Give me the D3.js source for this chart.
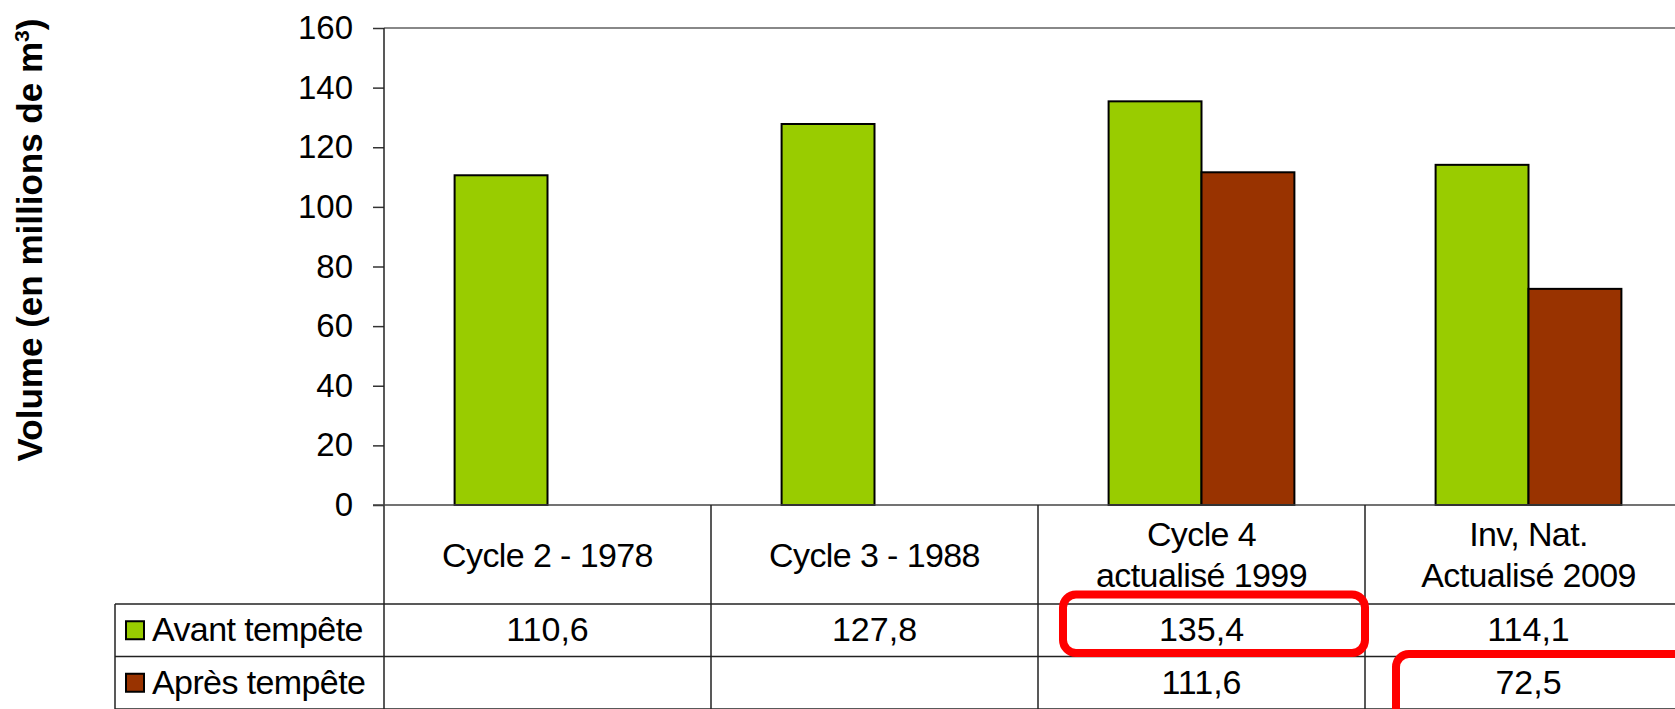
<!DOCTYPE html>
<html>
<head>
<meta charset="utf-8">
<script src="https://cdn.jsdelivr.net/npm/d3@7"></script>
<style>
body { margin:0; background:#fff; }
svg { display:block; font-family:"Liberation Sans", Arial, sans-serif; }
.tick text { font-size:33px; fill:#000; }
.cell { font-size:34px; fill:#000; }
</style>
</head>
<body>
<svg id="chart" width="1675" height="709"></svg>
<script>
// data
var categories = ["Cycle 2 - 1978", "Cycle 3 - 1988", "Cycle 4 - 1999", "Inv Nat - 2009"];
var categoryLines = [["Cycle 2 - 1978"], ["Cycle 3 - 1988"], ["Cycle 4", "actualisé 1999"], ["Inv, Nat.", "Actualisé 2009"]];
var seriesNames = ["Avant tempête", "Après tempête"];
var avant = [110.6, 127.8, 135.4, 114.1];
var apres = [null, null, 111.6, 72.5];
var yTicks = [0, 20, 40, 60, 80, 100, 120, 140, 160];
var colors = ["#99CC00", "#993300"];
// highlighted cells: [category index, series index]
var highlights = [[2, 0], [3, 1]];

var values = [avant, apres];

//sizes
var margins = {top:28, left:384, tableLeft:115};
var catWidth = 327;
var plotBottom = 505;
var headerBottom = 604;
var rowHeight = 52.5;

var svg = d3.select("#chart");

var xScale = d3.scaleBand()
    .domain(categories)
    .range([margins.left, margins.left + catWidth * categories.length])
    .padding(0);

var sScale = d3.scaleBand()
    .domain(seriesNames)
    .range([0, xScale.bandwidth()])
    .paddingInner(0)
    .paddingOuter(0.76);

var yScale = d3.scaleLinear()
    .domain([0, 160])
    .range([plotBottom, margins.top]);

var rowTop = function(i) { return headerBottom + i * rowHeight; };
var right = xScale.range()[1];

var fr = d3.formatLocale({decimal:",", thousands:" ", grouping:[3], currency:["", " €"]});
var fmt = fr.format(".1f");

// top border of plot
svg.append("line")
    .attr("x1", margins.left).attr("x2", right)
    .attr("y1", yScale(160)).attr("y2", yScale(160))
    .attr("stroke", "#888").attr("stroke-width", 2);

// bars
var groups = svg.append("g").selectAll("g")
    .data(categories)
    .enter()
    .append("g")
    .attr("transform", function(c) { return "translate(" + xScale(c) + ",0)"; });

groups.selectAll("rect")
    .data(function(c, i) {
        return seriesNames.map(function(s, j) { return {s:s, v:values[j][i], j:j}; })
            .filter(function(d) { return d.v != null; });
    })
    .enter()
    .append("rect")
    .attr("x", function(d) { return sScale(d.s); })
    .attr("width", sScale.bandwidth())
    .attr("y", function(d) { return yScale(d.v); })
    .attr("height", function(d) { return yScale(0) - yScale(d.v); })
    .attr("fill", function(d) { return colors[d.j]; })
    .attr("stroke", "#000")
    .attr("stroke-width", 2);

// y axis
var yAxis = svg.append("g")
    .attr("transform", "translate(" + margins.left + ",0)")
    .call(d3.axisLeft(yScale).tickValues(yTicks).tickSize(11).tickPadding(20));
yAxis.select(".domain").remove();
yAxis.selectAll(".tick line").attr("stroke", "#333").attr("stroke-width", 1.5);

// y title
var yTitle = svg.append("text")
    .attr("transform", "translate(42,240) rotate(-90)")
    .attr("text-anchor", "middle")
    .attr("font-size", 35)
    .attr("font-weight", "bold");
yTitle.append("tspan").text("Volume (en millions de m");
yTitle.append("tspan").attr("font-size", 21).attr("dy", -13).text("3");
yTitle.append("tspan").attr("dy", 13).text(")");

// table grid
var grid = svg.append("g").attr("stroke", "#222").attr("stroke-width", 1.5);
var tableBottom = rowTop(seriesNames.length);
// axis vertical line down through table
grid.append("line")
    .attr("x1", margins.left).attr("x2", margins.left)
    .attr("y1", margins.top).attr("y2", tableBottom);
// baseline
grid.append("line")
    .attr("x1", margins.left - 11).attr("x2", right)
    .attr("y1", plotBottom).attr("y2", plotBottom)
    .attr("stroke", "#444");
// dividers between categories
grid.selectAll(".div")
    .data(categories.slice(1))
    .enter()
    .append("line")
    .attr("x1", function(c) { return xScale(c); })
    .attr("x2", function(c) { return xScale(c); })
    .attr("y1", plotBottom).attr("y2", tableBottom);
// row lines
grid.selectAll(".row")
    .data(d3.range(seriesNames.length + 1))
    .enter()
    .append("line")
    .attr("x1", margins.tableLeft).attr("x2", right)
    .attr("y1", function(i) { return rowTop(i); })
    .attr("y2", function(i) { return rowTop(i); });
grid.append("line")
    .attr("x1", margins.tableLeft).attr("x2", margins.tableLeft)
    .attr("y1", headerBottom).attr("y2", tableBottom);

// category labels
var headerMid = (plotBottom + headerBottom) / 2;
svg.selectAll(".catlabel")
    .data(categories)
    .enter()
    .append("text")
    .attr("class", "cell")
    .attr("text-anchor", "middle")
    .attr("letter-spacing", -0.6)
    .each(function(c, i) {
        var lines = categoryLines[i];
        var t = d3.select(this);
        lines.forEach(function(l, k) {
            t.append("tspan")
                .attr("x", xScale(c) + xScale.bandwidth() / 2)
                .attr("y", headerMid + 12 + (k - (lines.length - 1) / 2) * 41)
                .text(l);
        });
    });

// legend row headers
seriesNames.forEach(function(s, j) {
    var mid = rowTop(j) + rowHeight / 2;
    svg.append("rect")
        .attr("x", 126).attr("y", mid - 9)
        .attr("width", 18).attr("height", 18)
        .attr("fill", colors[j])
        .attr("stroke", "#000").attr("stroke-width", 2);
    svg.append("text")
        .attr("class", "cell")
        .attr("x", 152).attr("y", mid + 11)
        .attr("letter-spacing", -0.6)
        .text(s);
});

// value cells
seriesNames.forEach(function(s, j) {
    svg.selectAll(".val" + j)
        .data(categories)
        .enter()
        .append("text")
        .attr("class", "cell")
        .attr("text-anchor", "middle")
        .attr("x", function(c) { return xScale(c) + xScale.bandwidth() / 2; })
        .attr("y", rowTop(j) + rowHeight / 2 + 11)
        .text(function(c, i) { return values[j][i] == null ? "" : fmt(values[j][i]); });
});

// red highlight boxes
svg.selectAll(".hl")
    .data(highlights)
    .enter()
    .append("rect")
    .attr("x", function(h) { return xScale(categories[h[0]]) + (h[1] == 0 ? 25 : 31); })
    .attr("y", function(h) { return rowTop(h[1]) - (h[1] == 0 ? 9.5 : 2.5); })
    .attr("width", function(h) { return h[1] == 0 ? xScale.bandwidth() - 25 : xScale.bandwidth(); })
    .attr("height", function(h) { return h[1] == 0 ? rowHeight + 6 : rowHeight + 20; })
    .attr("rx", 13)
    .attr("fill", "none")
    .attr("stroke", "#FF0000")
    .attr("stroke-width", 8);
</script>
</body>
</html>
